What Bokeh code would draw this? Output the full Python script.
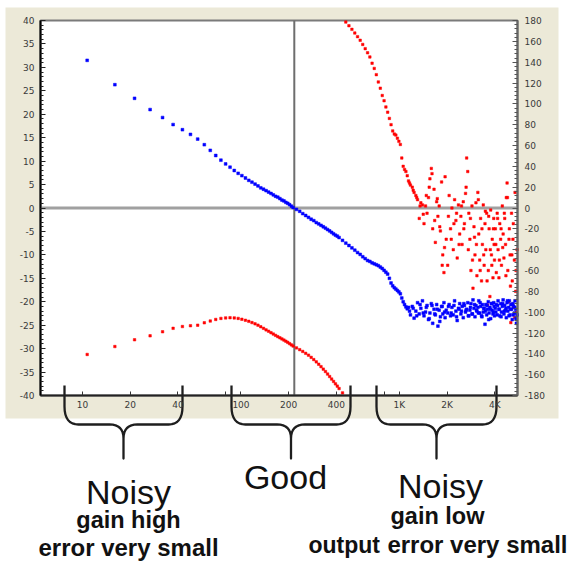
from bokeh.plotting import figure
from bokeh.models import (Range1d, LinearAxis, FixedTicker, SingleIntervalTicker, Label)
from bokeh.embed import file_html
from bokeh.resources import INLINE

# ---------------- data ----------------
FREQ_LOW = [10.7, 16.0, 21.3, 26.7, 32.0, 37.3, 42.7, 48.0, 53.3, 58.7, 64.0, 69.3, 74.7,
            80.0, 85.3, 90.7, 96.0, 101.3, 106.7, 112.0, 117.3, 122.7, 128.0, 133.3, 138.7,
            144.0, 149.3, 154.7, 160.0, 165.3, 170.7, 176.0, 181.3, 186.7, 192.0, 197.3,
            202.7, 208.0, 213.3]
GAIN_LOW = [31.5, 26.3, 23.4, 21.0, 19.3, 17.8, 16.7, 15.7, 14.7, 13.5, 12.3, 11.2, 10.2,
            9.4, 8.7, 8.0, 7.4, 6.9, 6.4, 5.9, 5.5, 5.1, 4.7, 4.3, 4.0,
            3.7, 3.4, 3.1, 2.8, 2.5, 2.3, 2.0, 1.7, 1.5, 1.2, 1.0, 0.7, 0.4, 0.1]
PHASE_LOW = [-140.6, -133.0, -126.5, -122.7, -118.8, -115.5, -113.8, -113.0, -112.5, -110.2,
             -108.5, -107.0, -106.0, -105.5, -105.3, -105.5, -106.0, -106.8, -107.8, -108.8,
             -110.0, -111.2, -112.5, -114.0, -115.5, -117.0, -118.3, -119.7, -121.0, -122.3,
             -123.5, -124.6, -125.7, -126.8, -127.9, -129.0, -130.2, -131.4, -132.5]

FREQ_MID1 = [224.0, 234.7, 245.3, 256.0, 266.7, 277.3, 288.0, 298.7, 309.3, 320.0, 330.7,
             341.3, 352.0, 362.7, 373.3, 384.0, 394.7, 405.3, 416.0]
GAIN_MID1 = [-0.3, -0.7, -1.2, -1.6, -2.0, -2.4, -2.7, -3.1, -3.4, -3.7, -4.0,
             -4.3, -4.6, -4.9, -5.2, -5.5, -5.8, -6.0, -6.3]
PHASE_MID1 = [-134.3, -136.0, -137.7, -139.5, -141.3, -143.4, -145.5, -147.7, -150.0, -152.3,
              -154.7, -157.0, -159.4, -161.8, -164.2, -166.5, -168.8, -171.0, -173.3]

FREQ_MID2 = [437.3, 458.7, 480.0, 501.3, 522.7, 544.0, 565.3, 586.7, 608.0, 629.3, 650.7,
             672.0, 693.3, 714.7, 736.0, 757.3, 778.7, 800.0, 821.3, 842.7, 864.0, 885.3,
             906.7, 928.0, 949.3, 970.7, 992.0, 1013.3, 1034.7, 1056.0, 1077.3, 1098.7, 1120.0]
GAIN_MID2 = [-6.9, -7.5, -8.0, -8.5, -9.0, -9.5, -9.9, -10.4, -10.8, -11.2, -11.4,
             -11.7, -11.9, -12.1, -12.3, -12.6, -12.9, -13.3, -13.7, -14.1, -15.0, -16.0,
             -16.6, -17.0, -17.3, -17.6, -17.9, -18.3, -19.2, -20.0, -20.6, -21.1, -21.5]
PHASE_MID2 = [-177.5, 178.5, 175.0, 171.5, 168.0, 164.5, 161.0, 157.0, 153.0, 149.0, 145.0,
              139.0, 134.0, 128.0, 121.0, 115.0, 108.0, 103.0, 97.0, 92.0, 86.0, 80.0,
              74.0, 71.0, 70.0, 67.0, 64.0, 61.0, 48.0, 40.0, 37.0, 35.0, 31.0]

FREQ_HI1 = [1141.3, 1173.3, 1205.3, 1237.3, 1269.3, 1301.3, 1333.3, 1365.3, 1397.3, 1429.3,
            1461.3, 1493.3, 1525.3, 1557.3, 1589.3, 1621.3, 1653.3, 1685.3, 1717.3, 1749.3,
            1781.3, 1813.3, 1845.3, 1877.3, 1909.3, 1941.3, 1973.3]
GAIN_HI1 = [-21.2, -22.8, -21.0, -23.5, -22.0, -20.2, -22.6, -21.4, -19.8, -23.0,
            -22.2, -20.8, -23.8, -22.4, -20.4, -24.6, -21.6, -22.8, -20.6, -25.2,
            -21.8, -23.2, -21.0, -22.6, -20.2, -23.4, -21.8]
PHASE_HI1 = [26, 22, 20, 15, 12, 8, -10, 5, 3, -15,
             2, -5, 10, 28, 38, -20, 18, -33, 6, -8,
             2, -22, 25, -45, -62, 30, -30]

FREQ_HI2 = [2016.0, 2058.7, 2101.3, 2144.0, 2186.7, 2229.3, 2272.0, 2314.7, 2357.3, 2400.0,
            2442.7, 2485.3, 2528.0, 2570.7, 2613.3, 2656.0, 2698.7, 2741.3, 2784.0, 2826.7,
            2869.3, 2912.0, 2954.7, 2997.3, 3040.0, 3082.7, 3125.3, 3168.0, 3210.7, 3253.3,
            3296.0, 3338.7, 3381.3, 3424.0, 3466.7, 3509.3, 3552.0, 3594.7, 3637.3, 3680.0,
            3722.7, 3765.3, 3808.0, 3850.7, 3893.3, 3936.0, 3978.7]
GAIN_HI2 = [-22.4, -20.6, -23.0, -21.2, -22.8, -19.8, -22.0, -24.0, -21.4, -20.4,
            -22.6, -21.0, -23.4, -20.8, -22.2, -21.6, -20.2, -23.0, -21.8, -20.4,
            -22.6, -19.6, -21.4, -23.2, -20.8, -22.0, -21.2, -19.8, -22.4, -21.0,
            -23.0, -20.6, -22.2, -21.4, -24.8, -20.6, -22.8, -21.6, -20.0, -22.4,
            -21.2, -23.6, -20.4, -21.8, -22.6, -20.2, -23.0]
PHASE_HI2 = [-55, 12, -20, 0, -40, 8, -12, -48, 3, -25,
             -8, -35, 6, -15, 14, 48, 35, -5, -30, -60,
             2, -77, -18, -45, 5, -65, 15, -25, -50, -10,
             -70, -35, 3, -55, -15, -40, -5, -93, -60, -20,
             -85, -2, -45, -30, -67, -10, -50]

FREQ_HI3 = [4032.0, 4085.3, 4138.7, 4192.0, 4245.3, 4298.7, 4352.0, 4405.3, 4458.7, 4512.0,
            4565.3, 4618.7, 4672.0, 4725.3, 4778.7, 4832.0, 4885.3, 4938.7, 4992.0, 5045.3,
            5098.7, 5152.0, 5205.3, 5258.7, 5312.0, 5365.3, 5418.7, 5472.0, 5525.3]
GAIN_HI3 = [-21.4, -20.6, -22.8, -19.8, -21.6, -23.0, -20.4, -22.2, -21.0, -19.6,
            -22.6, -20.8, -21.8, -23.4, -20.2, -22.0, -21.2, -19.8, -22.8, -20.6,
            -21.6, -23.8, -20.4, -21.0, -22.4, -19.8, -21.6, -24.6, -22.8]
PHASE_HI3 = [-20, -62, -5, -40, -67, -15, -30, -55, 2, -25,
             -48, -10, -35, 10, 24, -60, -90, -20, -45, -110,
             -5, -70, -30, -95, -50, 15, -80, -100, -40]

# extra bins in the noisy band (in between the ones above)
FREQ_HI_B = [1157.3, 1221.3, 1285.3, 1349.3, 1413.3, 1477.3, 1541.3, 1605.3, 1669.3, 1733.3,
             1797.3, 1861.3, 1925.3,
             2037.3, 2122.7, 2208.0, 2293.3, 2378.7, 2464.0, 2549.3, 2634.7, 2720.0, 2805.3,
             2890.7, 2976.0, 3061.3, 3146.7, 3232.0, 3317.3, 3402.7, 3488.0, 3573.3, 3658.7,
             3744.0, 3829.3, 3914.7, 3957.3,
             4058.7, 4165.3, 4272.0, 4378.7, 4485.3, 4592.0, 4698.7, 4805.3, 4912.0, 5018.7,
             5125.3, 5232.0, 5338.7, 5445.3]
GAIN_HI_B = [-22.0, -21.4, -23.0, -20.6, -22.4, -21.2, -23.6, -20.8, -22.6, -21.6,
             -24.2, -21.0, -22.2,
             -21.0, -22.4, -20.8, -23.2, -21.6, -22.0, -20.4, -21.8, -23.0, -21.2,
             -22.6, -20.6, -21.8, -22.4, -20.2, -23.2, -21.4, -22.0, -20.8, -23.8,
             -21.6, -20.4, -22.2, -21.0,
             -22.2, -20.8, -21.6, -23.2, -20.4, -22.0, -21.4, -19.8, -23.0, -21.6,
             -20.6, -22.8, -21.2, -23.6]
PHASE_HI_B = [24, 17, 10, 2, -6, 12, 20, 33, -12, 9,
              -18, -55, -38,
              -8, -30, -15, -5, -35, 2, -20, 20, -40, -10,
              -50, -28, -35, 8, -60, -20, -45, -3, -70, -8,
              -40, -55, -20, -35,
              -35, -10, -50, -20, -38, -5, -65, 10, -30, -75,
              -45, -15, -105, -60]

X_TICKS = [10, 20, 40, 100, 200, 400, 1000, 2000, 4000]
X_TICK_LABELS = ["10", "20", "40", "100", "200", "400", "1K", "2K", "4K"]
X_MINOR_TICKS = [80, 800]
CROSSOVER_HZ = 217
FREQ_RANGE = (5.43, 5560)
GAIN_RANGE = (-40, 40)
PHASE_RANGE = (-180, 180)

FREQ = FREQ_LOW + FREQ_MID1 + FREQ_MID2 + FREQ_HI1 + FREQ_HI2 + FREQ_HI3 + FREQ_HI_B
GAIN = GAIN_LOW + GAIN_MID1 + GAIN_MID2 + GAIN_HI1 + GAIN_HI2 + GAIN_HI3 + GAIN_HI_B
PHASE = PHASE_LOW + PHASE_MID1 + PHASE_MID2 + PHASE_HI1 + PHASE_HI2 + PHASE_HI3 + PHASE_HI_B

# ---------------- geometry: plot area inside a full-canvas frame ----------------
W, H = 569, 565
PA_L, PA_R, PA_T, PA_B = 40, 517, 20, 395      # plot area in canvas pixels
BEIGE = "#ECE9D8"
TICK_FONT = "DejaVu Sans"


def sx_to_hz(sx):
    lo, hi = FREQ_RANGE
    return lo * (hi / lo) ** ((sx - PA_L) / (PA_R - PA_L))


def sy_to(sy, rng):
    lo, hi = rng
    return hi - (hi - lo) * (sy - PA_T) / (PA_B - PA_T)


def sy_to_db(sy):
    return sy_to(sy, GAIN_RANGE)


p = figure(width=W, height=H, x_axis_type="log",
           x_range=Range1d(sx_to_hz(0), sx_to_hz(W)),
           y_range=Range1d(sy_to_db(H), sy_to_db(0)),
           output_backend="svg", toolbar_location=None, title=None,
           min_border=0)
p.extra_y_ranges = {"phase": Range1d(sy_to(H, PHASE_RANGE), sy_to(0, PHASE_RANGE))}
p.background_fill_color = "white"
p.border_fill_color = "white"
p.outline_line_color = None
p.grid.visible = False

# panel + plot area backgrounds
p.quad(left=sx_to_hz(5), right=sx_to_hz(558), bottom=sy_to_db(418), top=sy_to_db(7),
       fill_color=BEIGE, line_color=None)
p.quad(left=FREQ_RANGE[0], right=FREQ_RANGE[1], bottom=GAIN_RANGE[0], top=GAIN_RANGE[1],
       fill_color="white", line_color="#7a7a7a", line_width=2)

# reference lines
p.segment(x0=FREQ_RANGE[0], y0=0, x1=FREQ_RANGE[1], y1=0, line_color="#a0a0a0", line_width=3)
p.segment(x0=CROSSOVER_HZ, y0=GAIN_RANGE[0], x1=CROSSOVER_HZ, y1=GAIN_RANGE[1],
          line_color="#6e6e6e", line_width=2)

# data
p.scatter(FREQ, PHASE, y_range_name="phase", marker="square", size=2.5,
          fill_color="#ff0000", line_color="#ff0000", line_width=0.5)
p.scatter(FREQ, GAIN, marker="square", size=2.8,
          fill_color="#0000ff", line_color="#0000ff", line_width=0.5)

# bottom (log) axis
xa = p.xaxis[0]
xa.fixed_location = GAIN_RANGE[0]
xa.bounds = FREQ_RANGE
xa.ticker = FixedTicker(ticks=X_TICKS, minor_ticks=X_MINOR_TICKS)
xa.major_label_overrides = {t: l for t, l in zip(X_TICKS, X_TICK_LABELS)}
xa.axis_line_color = "#222222"
xa.axis_line_width = 2
xa.major_tick_in = 4
xa.major_tick_out = 0
xa.minor_tick_in = 4
xa.minor_tick_out = 0
xa.major_tick_line_color = "#333333"
xa.minor_tick_line_color = "#333333"
xa.major_label_standoff = 4
xa.major_label_text_font = TICK_FONT
xa.major_label_text_font_size = "9px"
xa.major_label_text_color = "#3a3a3a"

# left (gain) axis
ya = p.yaxis[0]
ya.fixed_location = FREQ_RANGE[0]
ya.bounds = GAIN_RANGE
ya.ticker = SingleIntervalTicker(interval=5, num_minor_ticks=5)
ya.major_label_overrides = {v: str(v) for v in range(-40, 45, 5)}
ya.axis_line_color = "black"
ya.axis_line_width = 2
ya.major_tick_in = 5
ya.major_tick_out = 0
ya.minor_tick_in = 3
ya.minor_tick_out = 0
ya.major_tick_line_color = "#222222"
ya.minor_tick_line_color = "#222222"
ya.major_label_standoff = 6
ya.major_label_text_font = TICK_FONT
ya.major_label_text_font_size = "9px"
ya.major_label_text_color = "#3a3a3a"

# right (phase) axis
ra = LinearAxis(y_range_name="phase", fixed_location=FREQ_RANGE[1], bounds=PHASE_RANGE,
                ticker=SingleIntervalTicker(interval=20, num_minor_ticks=5))
ra.major_label_overrides = {v: str(v) for v in range(-180, 200, 20)}
ra.axis_line_color = "#666666"
ra.axis_line_width = 2
ra.major_tick_in = 5
ra.major_tick_out = 0
ra.minor_tick_in = 3
ra.minor_tick_out = 0
ra.major_tick_line_color = "#555555"
ra.minor_tick_line_color = "#555555"
ra.major_label_standoff = 7
ra.major_label_text_font = TICK_FONT
ra.major_label_text_font_size = "9px"
ra.major_label_text_color = "#3a3a3a"
p.add_layout(ra, "right")


# ---------------- braces and notes below the chart ----------------
def quad_curve(a, c, b, n=8):
    pts = []
    for i in range(n + 1):
        t = i / n
        x = (1 - t) ** 2 * a[0] + 2 * (1 - t) * t * c[0] + t ** 2 * b[0]
        y = (1 - t) ** 2 * a[1] + 2 * (1 - t) * t * c[1] + t ** 2 * b[1]
        pts.append((x, y))
    return pts


Y_TOP, Y_ARM, Y_BAR, Y_TIP, R = 385, 406, 424, 458, 14


def brace_path(xl, xr):
    xc = (xl + xr) / 2
    path = [(xl, Y_TOP)]
    path += quad_curve((xl, Y_ARM), (xl, Y_BAR), (xl + R, Y_BAR))
    path += quad_curve((xc - R, Y_BAR), (xc, Y_BAR), (xc, Y_BAR + R))
    path += [(xc, Y_TIP), (xc, Y_BAR + R)]
    path += quad_curve((xc, Y_BAR + R), (xc, Y_BAR), (xc + R, Y_BAR))
    path += quad_curve((xr - R, Y_BAR), (xr, Y_BAR), (xr, Y_ARM))
    path += [(xr, Y_TOP)]
    return [sx_to_hz(x) for x, _ in path], [sy_to_db(y) for _, y in path]


for xl, xr in [(64, 182), (231, 350), (376, 496)]:
    bx, by = brace_path(xl, xr)
    p.line(bx, by, line_color="#1e1e1e", line_width=2.3, line_join="round")

LABEL_SHIFT = -11   # Label baseline renders ~11px lower than asked


def note(sx, sy, s, size, bold, align="center"):
    return Label(x=sx_to_hz(sx), y=sy_to_db(sy + LABEL_SHIFT), x_units="data", y_units="data",
                 text=s, text_align=align, text_baseline="alphabetic",
                 text_font="Liberation Sans", text_font_size=size,
                 text_font_style="bold" if bold else "normal", text_color="#111111")


p.add_layout(note(128, 502, "Noisy", "34px", False))
p.add_layout(note(128, 530, "gain high", "23.5px", True))
p.add_layout(note(128, 558, "error very small", "24px", True))
p.add_layout(note(285, 487, "Good", "34px", False))
p.add_layout(note(440, 496, "Noisy", "34px", False))
p.add_layout(note(437, 526, "gain low", "23.5px", True))
p.add_layout(note(308, 555, "output", "23px", True, align="left"))
p.add_layout(note(567, 555, "error very small", "24px", True, align="right"))

open("out.html", "w").write(file_html(p, INLINE))
